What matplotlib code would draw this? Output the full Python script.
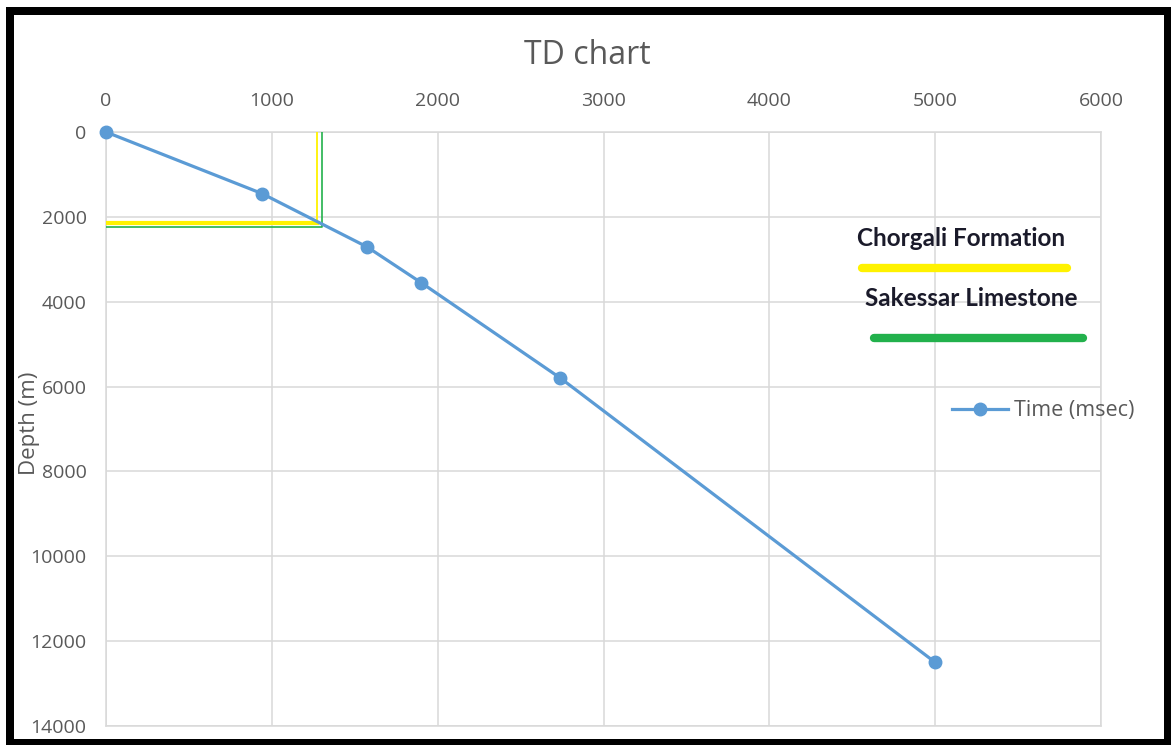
import matplotlib.pyplot as plt
from matplotlib.lines import Line2D
from matplotlib.patches import Rectangle

# TD data
time_ms = [0, 940, 1575, 1900, 2740, 5000]
depth_m = [0, 1450, 2710, 3550, 5800, 12500]

x_ticks = [0, 1000, 2000, 3000, 4000, 5000, 6000]
y_ticks = [0, 2000, 4000, 6000, 8000, 10000, 12000, 14000]

# formation tops (time, depth)
chorgali = (1270, 2140)
sakessar = (1300, 2240)

BLUE = "#5b9bd5"
GREY = "#595959"
YELLOW = "#fff200"
GREEN = "#22b14c"

plt.rcParams["font.family"] = ["Open Sans", "DejaVu Sans"]

W, H = 1171, 745
fig = plt.figure(figsize=(W / 100, H / 100), dpi=100)
ax = fig.add_axes([106 / W, 1 - 726 / H, 995 / W, 594 / H])

ax.plot(time_ms, depth_m, color=BLUE, lw=2.3, marker="o", ms=9,
        label="Time (msec)", zorder=4, clip_on=False)

# formation picks
ax.plot([0, chorgali[0], chorgali[0]], [chorgali[1], chorgali[1], 0],
        color=YELLOW, lw=1.3, zorder=3)
ax.plot([0, chorgali[0]], [chorgali[1], chorgali[1]], color=YELLOW, lw=3, zorder=3)
ax.plot([0, sakessar[0], sakessar[0]], [sakessar[1], sakessar[1], 0],
        color=GREEN, lw=1.2, zorder=3)

ax.set_xlim(0, 6000)
ax.set_ylim(14000, 0)
ax.set_xticks(x_ticks)
ax.set_yticks(y_ticks)
ax.xaxis.tick_top()
ax.tick_params(length=0, labelsize=14, labelcolor=GREY)
ax.tick_params(axis="x", pad=16)
ax.tick_params(axis="y", pad=14)
ax.grid(color="#d9d9d9", lw=1.1)
ax.set_axisbelow(True)
for s in ax.spines.values():
    s.set_color("#d9d9d9")
    s.set_linewidth(1.1)

fig.text(587 / W, 1 - 55 / H, "TD chart", ha="center", va="center",
         fontsize=23, color=GREY)
fig.text(30 / W, 1 - 423 / H, "Depth (m)", rotation=90, ha="center",
         va="center", fontsize=16, color=GREY)

fig.legend(loc="center left", bbox_to_anchor=(952 / W, 1 - 411 / H),
           frameon=False, fontsize=15.5, labelcolor=GREY, handlelength=2.6,
           handletextpad=0.3, borderpad=0, borderaxespad=0)

# key for the formation lines
fig.text(961 / W, 1 - 239 / H, "Chorgali Formation", ha="center", va="center",
         fontsize=17.5, fontweight="bold", color="#1a1a2a", family=["Lato", "DejaVu Sans"])
fig.add_artist(Line2D([862 / W, 1067 / W], [1 - 268 / H, 1 - 268 / H],
                      color=YELLOW, lw=6, solid_capstyle="round"))
fig.text(971 / W, 1 - 299 / H, "Sakessar Limestone", ha="center", va="center",
         fontsize=17.5, fontweight="bold", color="#1a1a2a", family=["Lato", "DejaVu Sans"])
fig.add_artist(Line2D([874 / W, 1083 / W], [1 - 338 / H, 1 - 338 / H],
                      color=GREEN, lw=6, solid_capstyle="round"))

# black frame round the picture
for x0, y0, w, h in [(6, 7, W - 6, 8), (6, 7, 8, H - 7), (1164, 7, 7, H - 7), (6, 739, W - 6, 6)]:
    fig.add_artist(Rectangle((x0 / W, 1 - (y0 + h) / H), w / W, h / H,
                             transform=fig.transFigure, color="black", lw=0))

fig.savefig("out.png", dpi=100)
